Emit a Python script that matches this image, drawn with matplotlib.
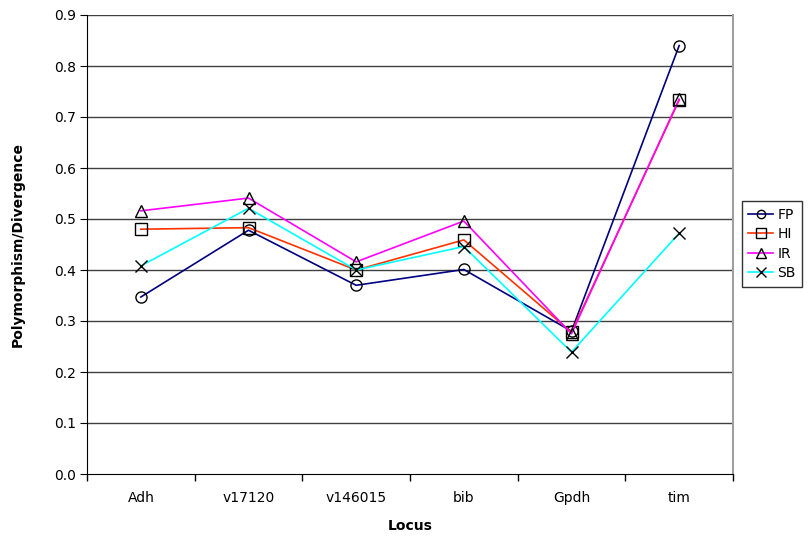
import matplotlib
matplotlib.use("Agg")
import matplotlib.pyplot as plt
from matplotlib.ticker import FixedLocator, FormatStrFormatter

categories = ["Adh", "v17120", "v146015", "bib", "Gpdh", "tim"]
FP = [0.347, 0.478, 0.370, 0.401, 0.280, 0.840]
HI = [0.480, 0.483, 0.400, 0.459, 0.278, 0.733]
IR = [0.516, 0.541, 0.416, 0.496, 0.275, 0.735]
SB = [0.408, 0.521, 0.400, 0.446, 0.239, 0.472]

series = [("FP", FP, "#000080", "o"),
          ("HI", HI, "#FF3300", "s"),
          ("IR", IR, "#FF00FF", "^"),
          ("SB", SB, "#00FFFF", "x")]

plt.rcParams['font.family'] = ['DejaVu Sans']
fig = plt.figure(figsize=(8.08, 5.37), dpi=100)
ax = fig.add_axes([87/808, 1 - 474/537, (733-87)/808, (474-15)/537])

x = [i + 0.5 for i in range(len(categories))]
handles = []
for name, vals, col, mk in series:
    h, = ax.plot(x, vals, color=col, lw=1.2, marker=mk, markersize=9 if mk != "o" else 8,
                 markerfacecolor='none', markeredgecolor='black', markeredgewidth=1.0,
                 label=name, zorder=3)
    handles.append(h)

ax.set_xlim(0, 6)
ax.set_ylim(0, 0.9)
ax.set_yticks([i / 10 for i in range(10)])
ax.yaxis.set_major_formatter(FormatStrFormatter('%.1f'))
ax.set_xticks(x)
ax.set_xticklabels(categories)
ax.xaxis.set_minor_locator(FixedLocator(list(range(7))))
ax.tick_params(axis='x', which='major', length=0, pad=12, labelsize=10)
ax.tick_params(axis='x', which='minor', length=5, direction='out', width=1)
ax.tick_params(axis='y', length=5, direction='out', labelsize=10, pad=3)

for yv in [i / 10 for i in range(1, 10)]:
    ax.axhline(yv, color='#404040', lw=1.0, zorder=1)

ax.spines['top'].set_visible(False)
ax.spines['right'].set_color('#A0A0A0')
ax.spines['right'].set_linewidth(1.5)
ax.spines['left'].set_color('black')
ax.spines['bottom'].set_color('black')

ax.set_xlabel("Locus", fontsize=10, fontweight='bold', labelpad=10)
ax.set_ylabel("Polymorphism/Divergence", fontsize=10, fontweight='bold', labelpad=21)

leg = fig.legend(handles=handles, loc='center left', bbox_to_anchor=(742/808, 1 - 244/537),
                 fontsize=10, frameon=True, fancybox=False, edgecolor='black',
                 handlelength=1.8, handletextpad=0.3, borderpad=0.45, labelspacing=0.4,
                 borderaxespad=0, markerscale=0.75)
leg.get_frame().set_linewidth(1.0)

fig.savefig("out.png", dpi=100)
